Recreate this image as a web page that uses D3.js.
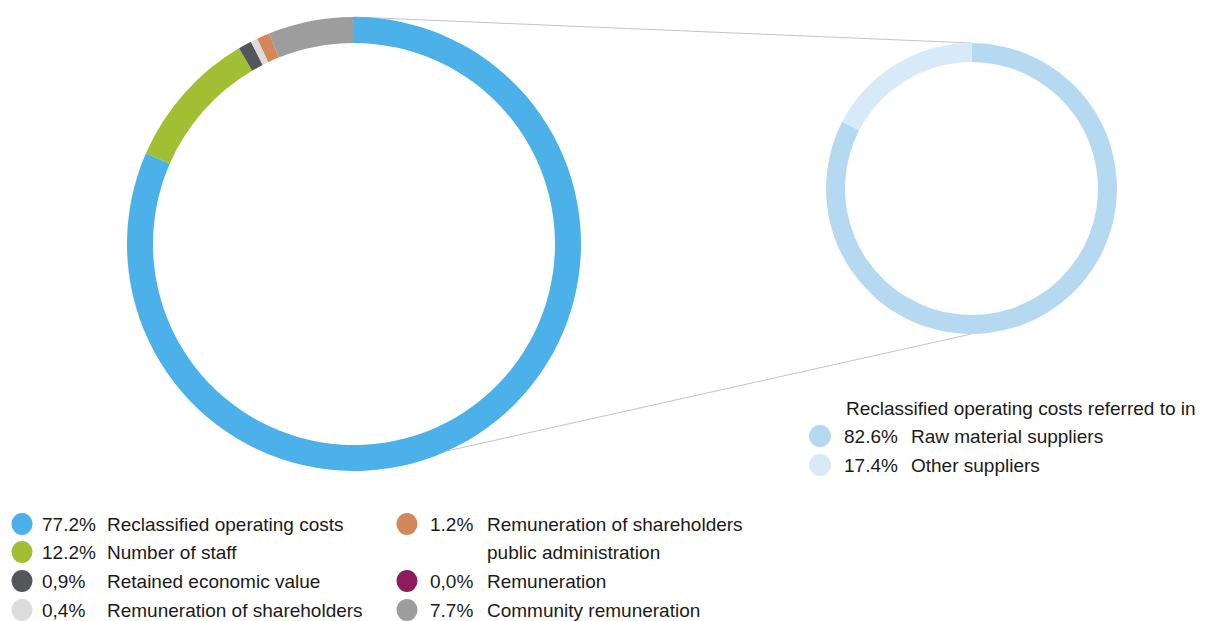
<!DOCTYPE html>
<html lang="en">
<head>
    <meta charset="UTF-8">
    <title>Economic value distributed</title>
    <style>
        body { margin: 0; background: #fff; }
        text { font-family: "Liberation Sans", Arial, sans-serif; fill: #1a1a1a; }
    </style>
</head>
<body>
    <svg id="container" width="1205" height="621"></svg>

<script src="https://cdn.jsdelivr.net/npm/d3@7/dist/d3.min.js"></script>
<script>
    // main ring
    let mainLabels = ["Reclassified operating costs", "Number of staff", "Retained economic value",
        "Remuneration of shareholders", "Remuneration of shareholders", "Remuneration", "Community remuneration"]
    let mainPct = ["77.2%", "12.2%", "0,9%", "0,4%", "1.2%", "0,0%", "7.7%"]
    // share of the ring each segment takes in the picture
    let mainShares = [81.5, 10.0, 0.95, 0.5, 0.9, 0, 6.1]
    let mainColors = ["#4bb1e8", "#a2bf34", "#55565b", "#dcdcdc", "#d5875c", "#8c1c5c", "#9e9d9e"]

    // detail ring
    let subTitle = "Reclassified operating costs referred to in"
    let subLabels = ["Raw material suppliers", "Other suppliers"]
    let subPct = ["82.6%", "17.4%"]
    let subValues = [82.6, 17.4]
    let subColors = ["#b5d9f1", "#d8eaf7"]

    let svg = d3.select("#container")

    let big = { x: 354, y: 244, r: 227, ir: 201 }
    let small = { x: 971.5, y: 188.5, r: 145.5, ir: 126.5 }

    let pie = d3.pie().sort(null).value(d => d)

    // connector lines first so rings sit on top
    let pointAt = (c, angle) => [c.x + c.r * Math.sin(angle), c.y - c.r * Math.cos(angle)]
    let links = [
        [pointAt(big, 0), pointAt(small, 0)],
        [pointAt(big, 155.7 * Math.PI / 180), pointAt(small, Math.PI)]
    ]
    svg.selectAll("line.link").data(links)
        .enter().append("line")
        .attr("class", "link")
        .attr("x1", d => d[0][0]).attr("y1", d => d[0][1])
        .attr("x2", d => d[1][0]).attr("y2", d => d[1][1])
        .attr("stroke", "#c4c4c4")
        .attr("stroke-width", 1)

    let bigArc = d3.arc().innerRadius(big.ir).outerRadius(big.r)
    svg.append("g")
        .attr("transform", `translate(${big.x},${big.y})`)
        .selectAll("path").data(pie(mainShares))
        .enter().append("path")
        .attr("d", bigArc)
        .attr("fill", (d, i) => mainColors[i])

    let smallArc = d3.arc().innerRadius(small.ir).outerRadius(small.r)
    svg.append("g")
        .attr("transform", `translate(${small.x},${small.y})`)
        .selectAll("path").data(pie(subValues))
        .enter().append("path")
        .attr("d", smallArc)
        .attr("fill", (d, i) => subColors[i])

    // bottom legend, two columns
    let rowY = [524, 552, 581, 610]
    let legendPos = [
        { col: 0, row: 0 }, { col: 0, row: 1 }, { col: 0, row: 2 }, { col: 0, row: 3 },
        { col: 1, row: 0 }, { col: 1, row: 2 }, { col: 1, row: 3 }
    ]
    let cols = [
        { dot: 22, pct: 42, label: 107 },
        { dot: 407, pct: 430, label: 487 }
    ]
    let legend = svg.append("g").selectAll("g").data(mainLabels)
        .enter().append("g")
        .attr("transform", (d, i) => `translate(0,${rowY[legendPos[i].row]})`)

    legend.append("ellipse")
        .attr("cx", (d, i) => cols[legendPos[i].col].dot)
        .attr("rx", 10.5).attr("ry", 11)
        .attr("fill", (d, i) => mainColors[i])
    legend.append("text")
        .attr("x", (d, i) => cols[legendPos[i].col].pct)
        .attr("y", 7)
        .style("font-size", "19px")
        .text((d, i) => mainPct[i])
    legend.append("text")
        .attr("x", (d, i) => cols[legendPos[i].col].label)
        .attr("y", 7)
        .style("font-size", "19px")
        .text(d => d)

    // second line of the orange item
    svg.append("text")
        .attr("x", cols[1].label)
        .attr("y", rowY[1] + 7)
        .style("font-size", "19px")
        .text("public administration")

    // right legend
    let sub = svg.append("g")
    sub.append("text")
        .attr("x", 846).attr("y", 415)
        .style("font-size", "19px")
        .text(subTitle)
    let subRows = sub.selectAll("g").data(subLabels)
        .enter().append("g")
        .attr("transform", (d, i) => `translate(0,${436 + i * 29})`)
    subRows.append("ellipse")
        .attr("cx", 820).attr("rx", 11).attr("ry", 11)
        .attr("fill", (d, i) => subColors[i])
    subRows.append("text")
        .attr("x", 844).attr("y", 7)
        .style("font-size", "19px")
        .text((d, i) => subPct[i])
    subRows.append("text")
        .attr("x", 911).attr("y", 7)
        .style("font-size", "19px")
        .text(d => d)
</script>
</body>
</html>
